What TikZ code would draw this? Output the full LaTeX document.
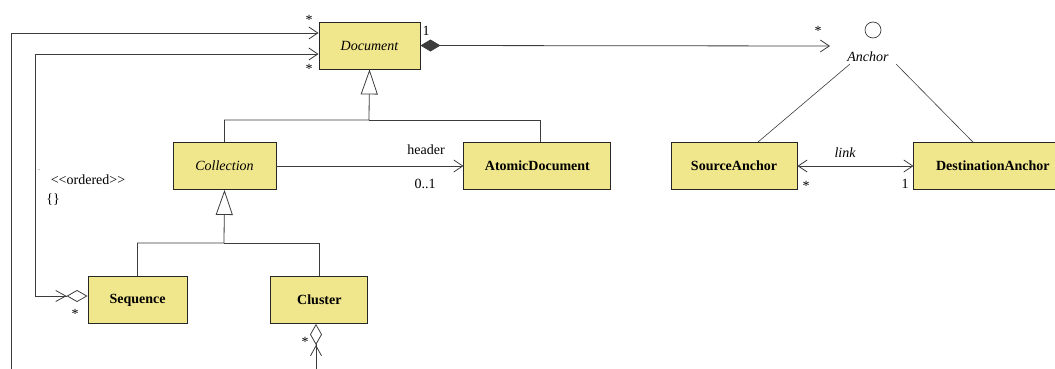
\documentclass[tikz,border=0pt]{standalone}
\usepackage{fontspec}
\setmainfont{Liberation Serif}
\usetikzlibrary{arrows.meta,positioning}
\definecolor{umlkhaki}{HTML}{F0E68C}
\definecolor{umlline}{HTML}{3C3C3C}

\begin{document}
\begin{tikzpicture}[x=1pt, y=-1pt,
  cls/.style={draw=black!85, line width=0.9pt, fill=umlkhaki, minimum height=47pt, inner sep=2pt, font=\fontsize{14}{16}\selectfont\bfseries},
  abstr/.style={cls, font=\fontsize{14}{16}\selectfont\itshape},
  lbl/.style={inner sep=0pt, font=\fontsize{14}{16}\selectfont},
  conn/.style={draw=umlline, line width=0.8pt},
  barb/.style={conn, -{Straight Barb[length=9pt,width=12pt]}},
  inherit/.style={conn, -{Triangle[open,length=25pt,width=17pt]}},
  aggr/.style={conn, {Straight Barb[length=9pt,width=12pt]}-{Straight Barb[length=10pt,width=11pt,sep=0pt] Diamond[open,length=21pt,width=12pt]}}
]
\clip (0,0) rectangle (1055,369);

% classes
\node[abstr, minimum width=101pt] (doc) at (369.5,45.5) {Document};
\node[abstr, minimum width=103pt] (coll) at (224.5,166) {Collection};
\node[cls, minimum width=147pt, right=187pt of coll] (atomic) {AtomicDocument};
\node[cls, minimum width=99pt] (seq) at (137.5,300) {Sequence};
\node[cls, minimum width=97pt, right=83pt of seq] (cluster) {Cluster};
\node[cls, minimum width=126pt] (src) at (734,166) {SourceAnchor};
\node[cls, minimum width=158pt, right=116pt of src] (dest) {DestinationAnchor};

% interface
\node[draw=umlline, line width=0.7pt, circle, minimum size=16pt, inner sep=0pt] (anchor) at (873,30) {};
\node[lbl, font=\fontsize{14}{16}\selectfont\itshape] (anchorlbl) at (868,57) {Anchor};
\coordinate (al) at (850,64);
\coordinate (ar) at (896,64);
\draw[conn, line width=0.6pt] ([xshift=24pt]src.north) -- (al);
\draw[conn, line width=0.6pt] ([xshift=-20pt]dest.north) -- (ar);

% composition to anchors
\coordinate (aend) at (830,46);
\draw[conn, {Diamond[length=20pt,width=12pt]}-{Straight Barb[length=9pt,width=12pt]}] (doc.east) -- (aend);

% generalizations
\coordinate (j1) at (369,120);
\coordinate (j2) at (224,243);
\draw[inherit] (coll.north) |- (j1) -- (doc.south);
\draw[conn] ([xshift=2.5pt]atomic.north) |- (j1);
\draw[inherit] (seq.north) |- (j2) -- (coll.south);
\draw[conn] (cluster.north) |- (j2);

% associations
\draw[barb] (coll) -- (atomic);
\draw[conn, {Straight Barb[length=9pt,width=12pt]}-{Straight Barb[length=9pt,width=12pt]}] (src) -- (dest);

\coordinate (i1) at (35,54);
\coordinate (i2) at (35,296);
\draw[aggr] (i1 -| doc.west) -- (i1) -- (i2) -- (i2 -| seq.west);

\coordinate (o1) at (11,33);
\coordinate (o2) at (11,390);
\coordinate (o3) at (316,390);
\draw[aggr] (o1 -| doc.west) -- (o1) -- (o2) -- (o3) -- (o3 |- cluster.south);

% multiplicities and roles
\node[lbl] (m1) at (309,20) {*};
\node[lbl] (m2) at (309,69) {*};
\node[lbl] (m3) at (426,31) {1};
\node[lbl] (m4) at (818,31) {*};
\node[lbl] (hdr) at (426,150) {header};
\node[lbl] (m5) at (425,184) {0..1};
\node[lbl, font=\fontsize{14}{16}\selectfont\itshape] (lnk) at (845,153) {link};
\node[lbl] (m6) at (806,186) {*};
\node[lbl] (m7) at (905,184) {1};
\node[lbl] (m8) at (75,314) {*};
\node[lbl] (m9) at (305,342) {*};
\node[lbl] (ord) at (88,180) {{<}{<}ordered{>}{>}};
\node[lbl] (brc) at (53,200) {\{\}};
\node[lbl, font=\tiny] (dots) at (39,170) {..};
\end{tikzpicture}
\end{document}
